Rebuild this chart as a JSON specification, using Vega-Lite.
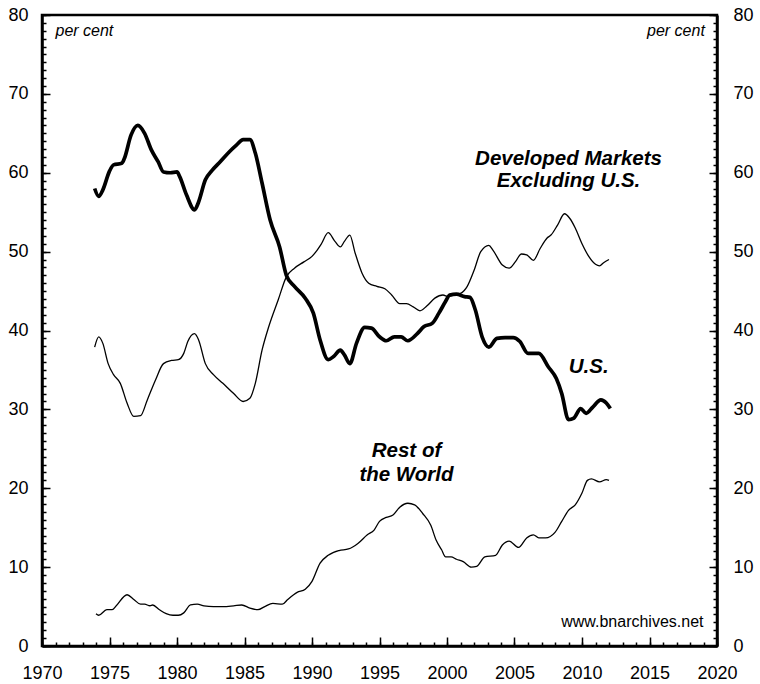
{
  "$schema": "https://vega.github.io/schema/vega-lite/v6.json",
  "width": 675,
  "height": 631,
  "autosize": {"type": "none"},
  "padding": {"left": 42, "top": 15, "right": 43, "bottom": 38},
  "background": "white",
  "config": {
    "view": {"stroke": "black", "strokeWidth": 2.5},
    "axis": {
      "grid": false,
      "domainColor": "black",
      "domainWidth": 2.5,
      "tickColor": "black",
      "tickWidth": 1.5,
      "labelFont": "Liberation Sans",
      "labelFontSize": 18,
      "labelColor": "black",
      "labelFlush": false,
      "labelOverlap": false
    },
    "text": {"font": "Liberation Sans", "color": "black"}
  },
  "datasets": {
    "us": [
      {"year":1973.9,"value":58.0},{"year":1974.2,"value":57.0},{"year":1974.5,"value":57.8},{"year":1975.0,"value":60.2},{"year":1975.3,"value":61.0},{"year":1975.9,"value":61.2},{"year":1976.1,"value":61.8},{"year":1976.6,"value":64.8},{"year":1977.1,"value":66.0},{"year":1977.6,"value":65.0},{"year":1978.1,"value":62.9},{"year":1978.6,"value":61.4},{"year":1979.0,"value":60.1},{"year":1979.5,"value":60.0},{"year":1980.0,"value":60.1},{"year":1980.2,"value":59.5},{"year":1980.7,"value":57.2},{"year":1981.3,"value":55.3},{"year":1981.6,"value":56.3},{"year":1982.1,"value":59.1},{"year":1982.6,"value":60.3},{"year":1983.2,"value":61.4},{"year":1983.9,"value":62.7},{"year":1984.4,"value":63.5},{"year":1984.9,"value":64.2},{"year":1985.4,"value":64.2},{"year":1985.8,"value":62.5},{"year":1986.3,"value":58.7},{"year":1986.9,"value":54.0},{"year":1987.6,"value":50.6},{"year":1988.1,"value":47.0},{"year":1988.7,"value":45.6},{"year":1989.5,"value":44.1},{"year":1990.1,"value":42.2},{"year":1990.6,"value":38.8},{"year":1991.2,"value":36.3},{"year":1991.6,"value":36.7},{"year":1992.1,"value":37.5},{"year":1992.4,"value":36.9},{"year":1992.8,"value":35.8},{"year":1993.3,"value":38.4},{"year":1993.9,"value":40.4},{"year":1994.4,"value":40.3},{"year":1995.0,"value":39.2},{"year":1995.5,"value":38.7},{"year":1996.1,"value":39.2},{"year":1996.6,"value":39.2},{"year":1997.1,"value":38.7},{"year":1997.8,"value":39.6},{"year":1998.3,"value":40.5},{"year":1998.9,"value":40.9},{"year":1999.4,"value":42.2},{"year":1999.9,"value":43.7},{"year":2000.2,"value":44.5},{"year":2000.7,"value":44.6},{"year":2001.3,"value":44.3},{"year":2001.7,"value":44.2},{"year":2002.1,"value":42.6},{"year":2002.6,"value":39.2},{"year":2003.1,"value":37.9},{"year":2003.7,"value":39.0},{"year":2004.3,"value":39.1},{"year":2004.9,"value":39.1},{"year":2005.4,"value":38.6},{"year":2006.0,"value":37.1},{"year":2006.8,"value":37.1},{"year":2007.5,"value":35.4},{"year":2008.1,"value":33.9},{"year":2008.5,"value":32.0},{"year":2009.0,"value":28.7},{"year":2009.4,"value":28.9},{"year":2009.9,"value":30.1},{"year":2010.3,"value":29.5},{"year":2010.8,"value":30.3},{"year":2011.4,"value":31.2},{"year":2011.8,"value":30.8},{"year":2012.1,"value":30.1}
    ],
    "dev": [
      {"year":1973.9,"value":37.9},{"year":1974.2,"value":39.2},{"year":1974.5,"value":38.4},{"year":1974.9,"value":35.8},{"year":1975.3,"value":34.4},{"year":1975.8,"value":33.3},{"year":1976.3,"value":30.8},{"year":1976.8,"value":29.1},{"year":1977.3,"value":29.2},{"year":1977.8,"value":31.2},{"year":1978.4,"value":33.7},{"year":1979.0,"value":35.8},{"year":1979.6,"value":36.2},{"year":1980.1,"value":36.3},{"year":1980.5,"value":37.1},{"year":1980.8,"value":38.6},{"year":1981.3,"value":39.6},{"year":1981.6,"value":38.8},{"year":1982.1,"value":35.8},{"year":1982.7,"value":34.4},{"year":1983.4,"value":33.3},{"year":1984.2,"value":32.0},{"year":1984.9,"value":31.0},{"year":1985.4,"value":31.4},{"year":1985.8,"value":33.3},{"year":1986.3,"value":37.5},{"year":1986.8,"value":40.5},{"year":1987.5,"value":43.9},{"year":1988.1,"value":46.8},{"year":1988.7,"value":47.9},{"year":1989.4,"value":48.7},{"year":1990.0,"value":49.4},{"year":1990.3,"value":50.0},{"year":1990.7,"value":51.0},{"year":1991.2,"value":52.4},{"year":1991.7,"value":51.3},{"year":1992.1,"value":50.6},{"year":1992.4,"value":51.3},{"year":1992.8,"value":52.1},{"year":1993.2,"value":49.8},{"year":1993.7,"value":47.3},{"year":1994.2,"value":46.0},{"year":1994.8,"value":45.6},{"year":1995.4,"value":45.3},{"year":1995.9,"value":44.5},{"year":1996.5,"value":43.4},{"year":1997.0,"value":43.4},{"year":1997.5,"value":43.0},{"year":1998.0,"value":42.5},{"year":1998.5,"value":43.1},{"year":1999.1,"value":44.1},{"year":1999.7,"value":44.5},{"year":2000.1,"value":44.3},{"year":2000.5,"value":44.5},{"year":2001.0,"value":44.7},{"year":2001.5,"value":45.6},{"year":2002.0,"value":47.6},{"year":2002.5,"value":50.0},{"year":2003.1,"value":50.8},{"year":2003.4,"value":50.2},{"year":2004.1,"value":48.3},{"year":2004.6,"value":47.9},{"year":2005.1,"value":48.8},{"year":2005.5,"value":49.7},{"year":2005.9,"value":49.6},{"year":2006.4,"value":48.9},{"year":2006.9,"value":50.4},{"year":2007.4,"value":51.7},{"year":2007.7,"value":52.1},{"year":2008.2,"value":53.4},{"year":2008.7,"value":54.8},{"year":2009.1,"value":54.2},{"year":2009.5,"value":53.0},{"year":2010.0,"value":51.0},{"year":2010.5,"value":49.4},{"year":2011.0,"value":48.4},{"year":2011.3,"value":48.2},{"year":2011.6,"value":48.6},{"year":2012.0,"value":49.0}
    ],
    "row": [
      {"year":1974.0,"value":4.1},{"year":1974.2,"value":3.9},{"year":1974.8,"value":4.6},{"year":1975.2,"value":4.6},{"year":1975.5,"value":5.1},{"year":1976.3,"value":6.5},{"year":1976.8,"value":5.9},{"year":1977.3,"value":5.3},{"year":1977.6,"value":5.3},{"year":1978.0,"value":5.1},{"year":1978.2,"value":5.2},{"year":1978.7,"value":4.6},{"year":1979.2,"value":4.1},{"year":1979.7,"value":3.9},{"year":1980.1,"value":3.9},{"year":1980.5,"value":4.2},{"year":1981.0,"value":5.2},{"year":1981.5,"value":5.3},{"year":1982.0,"value":5.1},{"year":1982.7,"value":5.0},{"year":1983.4,"value":5.0},{"year":1984.2,"value":5.1},{"year":1984.8,"value":5.2},{"year":1985.4,"value":4.8},{"year":1986.0,"value":4.6},{"year":1986.5,"value":5.0},{"year":1987.1,"value":5.4},{"year":1987.8,"value":5.3},{"year":1988.2,"value":5.9},{"year":1988.9,"value":6.8},{"year":1989.5,"value":7.2},{"year":1990.0,"value":8.2},{"year":1990.6,"value":10.5},{"year":1991.2,"value":11.5},{"year":1992.0,"value":12.1},{"year":1992.7,"value":12.3},{"year":1993.4,"value":13.0},{"year":1994.1,"value":14.1},{"year":1994.6,"value":14.7},{"year":1995.0,"value":15.8},{"year":1995.5,"value":16.3},{"year":1996.0,"value":16.6},{"year":1996.5,"value":17.6},{"year":1997.1,"value":18.1},{"year":1997.6,"value":17.9},{"year":1998.2,"value":16.8},{"year":1998.8,"value":15.3},{"year":1999.2,"value":13.4},{"year":1999.6,"value":12.2},{"year":1999.9,"value":11.3},{"year":2000.3,"value":11.3},{"year":2000.7,"value":11.0},{"year":2001.2,"value":10.7},{"year":2001.8,"value":10.0},{"year":2002.2,"value":10.1},{"year":2002.8,"value":11.3},{"year":2003.6,"value":11.5},{"year":2004.1,"value":12.8},{"year":2004.6,"value":13.3},{"year":2005.3,"value":12.5},{"year":2005.9,"value":13.7},{"year":2006.4,"value":14.1},{"year":2006.8,"value":13.7},{"year":2007.3,"value":13.7},{"year":2008.0,"value":14.4},{"year":2008.5,"value":15.8},{"year":2009.0,"value":17.2},{"year":2009.5,"value":17.9},{"year":2010.0,"value":19.4},{"year":2010.4,"value":21.0},{"year":2010.7,"value":21.2},{"year":2011.3,"value":20.8},{"year":2011.8,"value":21.1},{"year":2012.0,"value":21.0}
    ],
    "one": [{}]
  },
  "resolve": {"axis": {"x": "independent", "y": "independent"}},
  "layer": [
    {
      "data": {"name": "us"},
      "mark": {"type": "line", "color": "black", "strokeWidth": 3.7, "interpolate": "monotone", "strokeJoin": "round"},
      "encoding": {
        "x": {"field": "year", "type": "quantitative",
              "scale": {"domain": [1970, 2020], "nice": false, "zero": false},
              "axis": {"orient": "bottom", "title": null, "format": "d", "values": [1970,1975,1980,1985,1990,1995,2000,2005,2010,2015,2020], "tickSize": -9, "labelPadding": 27}},
        "y": {"field": "value", "type": "quantitative",
              "scale": {"domain": [0, 80], "nice": false, "zero": true},
              "axis": {"orient": "left", "title": null, "values": [0,10,20,30,40,50,60,70,80], "tickSize": -8, "labelPadding": 22}}
      }
    },
    {
      "data": {"name": "dev"},
      "mark": {"type": "line", "color": "black", "strokeWidth": 1.3, "interpolate": "monotone"},
      "encoding": {
        "x": {"field": "year", "type": "quantitative",
              "axis": {"orient": "bottom", "title": null, "labels": false, "domain": false, "tickSize": -4,
                       "values": [1970,1971,1972,1973,1974,1975,1976,1977,1978,1979,1980,1981,1982,1983,1984,1985,1986,1987,1988,1989,1990,1991,1992,1993,1994,1995,1996,1997,1998,1999,2000,2001,2002,2003,2004,2005,2006,2007,2008,2009,2010,2011,2012,2013,2014,2015,2016,2017,2018,2019,2020]}},
        "y": {"field": "value", "type": "quantitative",
              "axis": {"orient": "right", "title": null, "values": [0,10,20,30,40,50,60,70,80], "tickSize": -8, "labelPadding": 24}}
      }
    },
    {
      "data": {"name": "row"},
      "mark": {"type": "line", "color": "black", "strokeWidth": 1.3, "interpolate": "monotone"},
      "encoding": {
        "x": {"field": "year", "type": "quantitative", "axis": null},
        "y": {"field": "value", "type": "quantitative",
              "axis": {"orient": "left", "title": null, "labels": false, "domain": false, "tickSize": -4,
                       "values": [0,1,2,3,4,5,6,7,8,9,10,11,12,13,14,15,16,17,18,19,20,21,22,23,24,25,26,27,28,29,30,31,32,33,34,35,36,37,38,39,40,41,42,43,44,45,46,47,48,49,50,51,52,53,54,55,56,57,58,59,60,61,62,63,64,65,66,67,68,69,70,71,72,73,74,75,76,77,78,79,80]}}
      }
    },
    {
      "data": {"name": "one"},
      "mark": {"type": "text", "text": ["Developed Markets", "Excluding U.S."], "fontSize": 20.5, "fontWeight": "bold", "fontStyle": "italic", "align": "center", "baseline": "alphabetic", "lineHeight": 22},
      "encoding": {
        "x": {"datum": 2009.0, "type": "quantitative", "axis": null},
        "y": {"datum": 61.0, "type": "quantitative",
              "axis": {"orient": "right", "title": null, "labels": false, "domain": false, "tickSize": -4,
                       "values": [0,1,2,3,4,5,6,7,8,9,10,11,12,13,14,15,16,17,18,19,20,21,22,23,24,25,26,27,28,29,30,31,32,33,34,35,36,37,38,39,40,41,42,43,44,45,46,47,48,49,50,51,52,53,54,55,56,57,58,59,60,61,62,63,64,65,66,67,68,69,70,71,72,73,74,75,76,77,78,79,80]}}
      }
    },
    {
      "data": {"name": "one"},
      "mark": {"type": "text", "text": "U.S.", "fontSize": 20.5, "fontWeight": "bold", "fontStyle": "italic", "align": "center", "baseline": "alphabetic"},
      "encoding": {
        "x": {"datum": 2010.5, "type": "quantitative", "axis": null},
        "y": {"datum": 34.6, "type": "quantitative", "axis": null}
      }
    },
    {
      "data": {"name": "one"},
      "mark": {"type": "text", "text": ["Rest of", "the World"], "fontSize": 20.5, "fontWeight": "bold", "fontStyle": "italic", "align": "center", "baseline": "alphabetic", "lineHeight": 24},
      "encoding": {
        "x": {"datum": 1997.0, "type": "quantitative", "axis": null},
        "y": {"datum": 24.0, "type": "quantitative", "axis": null}
      }
    },
    {
      "data": {"name": "one"},
      "mark": {"type": "text", "text": "per cent", "fontSize": 16, "fontStyle": "italic", "align": "left", "baseline": "alphabetic"},
      "encoding": {
        "x": {"datum": 1971.0, "type": "quantitative", "axis": null},
        "y": {"datum": 77.3, "type": "quantitative", "axis": null}
      }
    },
    {
      "data": {"name": "one"},
      "mark": {"type": "text", "text": "per cent", "fontSize": 16, "fontStyle": "italic", "align": "right", "baseline": "alphabetic"},
      "encoding": {
        "x": {"datum": 2019.1, "type": "quantitative", "axis": null},
        "y": {"datum": 77.3, "type": "quantitative", "axis": null}
      }
    },
    {
      "data": {"name": "one"},
      "mark": {"type": "text", "text": "www.bnarchives.net", "fontSize": 16, "align": "right", "baseline": "alphabetic"},
      "encoding": {
        "x": {"datum": 2019.0, "type": "quantitative", "axis": null},
        "y": {"datum": 2.45, "type": "quantitative", "axis": null}
      }
    }
  ]
}
